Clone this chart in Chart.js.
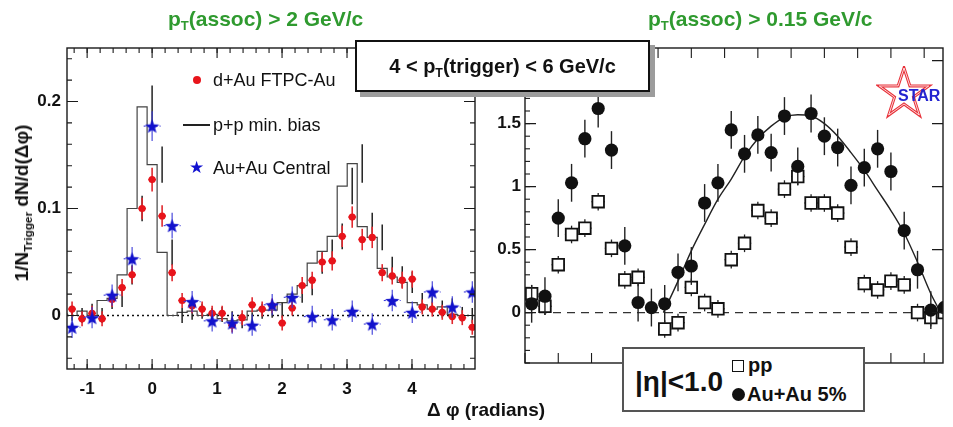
<!DOCTYPE html>
<html>
<head>
<meta charset="utf-8">
<script src="https://cdn.jsdelivr.net/npm/chart.js@4.4.1/dist/chart.umd.min.js"></script>
<style>
  body { margin: 0; width: 953px; height: 427px; position: relative; overflow: hidden; background: #fff;
         font-family: "Liberation Sans", Arial, sans-serif; color: #111; }
  canvas { position: absolute; top: 0; }
  #leftChart { left: 0; }
  #rightChart { left: 480px; }
  .lbl { position: absolute; white-space: nowrap; line-height: 20px; }
  .title { color: #2f9a2f; font-weight: bold; font-size: 21px; top: 8px; line-height: 22px; }
  sub { font-size: 0.62em; vertical-align: -0.3em; line-height: 0; }
  .leg { font-size: 18px; }
  #trigBox { position: absolute; left: 355px; top: 40px; width: 295px; height: 52px; box-sizing: border-box;
             border: 2px solid #111; background: #fff; box-shadow: 5px 5px 0 #9c9c9c;
             font-weight: bold; font-size: 20px; line-height: 48px; text-align: center; }
  #etaBox { position: absolute; left: 622px; top: 347px; width: 243px; height: 65px; box-sizing: border-box;
            border: 2px solid #555; background: #fff; font-weight: bold; }
  #yTitle { position: absolute; left: 22px; top: 203px; transform: translate(-50%, -50%) rotate(-90deg);
            font-weight: bold; font-size: 19px; white-space: nowrap; }
  #xTitle { position: absolute; left: 486px; top: 410px; transform: translate(-50%, -50%);
            font-weight: bold; font-size: 19px; white-space: nowrap; }
</style>
</head>
<body>
<canvas id="leftChart" width="480" height="427"></canvas>
<canvas id="rightChart" width="473" height="427"></canvas>

<div class="lbl title" style="left:168px">p<sub>T</sub>(assoc) &gt; 2 GeV/c</div>
<div class="lbl title" style="left:648px">p<sub>T</sub>(assoc) &gt; 0.15 GeV/c</div>

<div style="position:absolute;left:193px;top:76px;width:8px;height:8px;border-radius:50%;background:#e8141b"></div>
<div class="lbl leg" style="left:213px;top:70px">d+Au FTPC-Au</div>
<div style="position:absolute;left:183px;top:124px;width:27px;height:2px;background:#222"></div>
<div class="lbl leg" style="left:213px;top:115px">p+p min. bias</div>
<div class="lbl" style="left:189px;top:158px;font-size:17px;color:#1010d0">★</div>
<div class="lbl leg" style="left:213px;top:158px">Au+Au Central</div>

<div id="trigBox">4 &lt; p<sub>T</sub>(trigger) &lt; 6 GeV/c</div>

<svg style="position:absolute;left:876px;top:66px" width="58" height="56">
  <polygon points="28,2 33.9,19.9 52.7,20 37.5,31.1 43.3,49 28,38 12.7,49 18.5,31.1 3.3,20 22.1,19.9"
           fill="none" stroke="#e8323a" stroke-width="3"/>
  <polygon points="28,2 33.9,19.9 52.7,20 37.5,31.1 43.3,49 28,38 12.7,49 18.5,31.1 3.3,20 22.1,19.9"
           fill="none" stroke="#fff" stroke-width="0.8"/>
</svg>
<div class="lbl" style="left:898px;top:86px;font-weight:bold;font-size:16px;color:#2424d0">STAR</div>

<div id="etaBox">
  <div class="lbl" style="left:11px;top:19px;font-size:28px;line-height:28px">|η|&lt;1.0</div>
  <div style="position:absolute;left:108px;top:11px;width:10px;height:10px;border:1.8px solid #111"></div>
  <div class="lbl" style="left:124px;top:6px;font-size:20px">pp</div>
  <div style="position:absolute;left:108px;top:39px;width:13px;height:13px;border-radius:50%;background:#111"></div>
  <div class="lbl" style="left:123px;top:35px;font-size:20px">Au+Au 5%</div>
</div>

<div id="yTitle">1/N<sub>Trigger</sub> dN/d(Δφ)</div>
<div id="xTitle">Δ φ (radians)</div>

<script>
// ---- left panel: p_T(assoc) > 2 GeV/c ----
// bin centres (radians), narrow binning
const binX = [-1.232, -1.078, -0.924, -0.770, -0.616, -0.462, -0.308, -0.154,
  0.000, 0.154, 0.308, 0.462, 0.616, 0.770, 0.924, 1.078, 1.232, 1.386,
  1.540, 1.694, 1.848, 2.002, 2.156, 2.310, 2.464, 2.618, 2.772, 2.926,
  3.080, 3.234, 3.388, 3.542, 3.696, 3.850, 4.004, 4.158, 4.312, 4.466,
  4.620, 4.774, 4.928];
const binWidth = 0.154;
const leftXTicks = [-1, 0, 1, 2, 3, 4];
const leftYTicks = [0, 0.1, 0.2];

// d+Au FTPC-Au (red dots)
const dAuY = [0.006, -0.003, 0.002, -0.003, 0.015, 0.026, 0.038, 0.100,
  0.127, 0.093, 0.040, 0.014, 0.009, 0.006, 0.002, 0.002, -0.009, -0.002,
  0.010, 0.006, 0.009, -0.007, 0.007, 0.028, 0.033, 0.050, 0.051, 0.074,
  0.092, 0.071, 0.073, 0.040, 0.037, 0.033, 0.034, 0.008, 0.006, 0.003,
  -0.001, -0.002, -0.011];
const dAuErr = [0.007, 0.007, 0.007, 0.007, 0.007, 0.008, 0.008, 0.010,
  0.011, 0.010, 0.008, 0.007, 0.007, 0.007, 0.007, 0.007, 0.007, 0.007,
  0.007, 0.007, 0.007, 0.007, 0.007, 0.008, 0.008, 0.009, 0.009, 0.010,
  0.010, 0.010, 0.010, 0.008, 0.008, 0.008, 0.008, 0.007, 0.007, 0.007,
  0.007, 0.007, 0.007];

// p+p min. bias (histogram)
const ppMinBias = [0.002, 0.000, 0.004, 0.000, 0.014, 0.016, 0.038, 0.100,
  0.195, 0.141, 0.059, 0.000, 0.003, 0.004, 0.000, 0.001, -0.003, -0.005,
  -0.004, 0.004, 0.005, 0.005, 0.012, 0.020, 0.028, 0.049, 0.060, 0.074,
  0.121, 0.142, 0.083, 0.073, 0.044, 0.036, 0.031, 0.012, 0.010, 0.006,
  0.008, 0.001, 0.000];
const ppMinBiasErr = [0.007, 0.007, 0.007, 0.007, 0.008, 0.008, 0.009, 0.012,
  0.020, 0.017, 0.012, 0.007, 0.007, 0.007, 0.007, 0.007, 0.007, 0.007,
  0.007, 0.007, 0.007, 0.007, 0.008, 0.008, 0.009, 0.010, 0.011, 0.012,
  0.017, 0.018, 0.013, 0.012, 0.011, 0.010, 0.010, 0.009, 0.008, 0.008,
  0.008, 0.007, 0.007];

// Au+Au Central (blue stars), wide binning
const auauCentralX = [-1.232, -0.924, -0.616, -0.308, 0.000, 0.308, 0.616,
  0.924, 1.232, 1.540, 1.848, 2.156, 2.464, 2.772, 3.080, 3.388, 3.696,
  4.004, 4.312, 4.620, 4.928];
const auauCentralY = [-0.011, -0.002, 0.019, 0.053, 0.177, 0.084, 0.013,
  -0.005, -0.007, -0.009, 0.010, 0.017, -0.001, -0.004, 0.004, -0.008,
  0.014, 0.003, 0.022, 0.008, 0.022];
const auauCentralErr = [0.010, 0.010, 0.010, 0.011, 0.014, 0.012, 0.010,
  0.010, 0.010, 0.010, 0.010, 0.010, 0.010, 0.010, 0.010, 0.010, 0.010,
  0.010, 0.010, 0.010, 0.010];

// ---- right panel: p_T(assoc) > 0.15 GeV/c ----
const rightX = [0.1, 0.3, 0.5, 0.7, 0.9, 1.1, 1.3, 1.5, 1.7, 1.9, 2.1, 2.3,
  2.5, 2.7, 2.9, 3.1, 3.3, 3.5, 3.7, 3.9, 4.1, 4.3, 4.5, 4.7, 4.9, 5.1, 5.3,
  5.5, 5.7, 5.9, 6.1, 6.3];
const rightYTicks = [0, 0.5, 1, 1.5];
const auau5Y = [0.07, 0.13, 0.75, 1.03, 1.38, 1.62, 1.29, 0.53, 0.08, 0.04,
  0.07, 0.32, 0.37, 0.87, 1.03, 1.45, 1.26, 1.41, 1.27, 1.56, 1.16, 1.58,
  1.40, 1.31, 1.01, 1.15, 1.30, 1.12, 0.65, 0.34, 0.02, 0.04];
const ppY = [0.15, 0.05, 0.38, 0.62, 0.67, 0.88, 0.51, 0.26, 0.28, null,
  -0.13, -0.08, 0.20, 0.08, 0.03, 0.42, 0.55, 0.81, 0.75, 0.98, 1.08, 0.87,
  0.87, 0.79, 0.52, 0.23, 0.18, 0.25, 0.22, 0.00, -0.04, 0.00];
// away-side fit curve
const fitX = [2.08, 2.3, 2.5, 2.7, 2.9, 3.1, 3.3, 3.5, 3.7, 3.9, 4.1, 4.3, 4.5,
  4.7, 4.9, 5.1, 5.3, 5.5, 5.7, 5.9, 6.1, 6.25];
const fitY = [0.00, 0.25, 0.49, 0.70, 0.90, 1.06, 1.24, 1.38, 1.48, 1.55, 1.57,
  1.56, 1.50, 1.40, 1.27, 1.13, 0.97, 0.81, 0.63, 0.40, 0.15, 0.00];

const FONT = '"Liberation Sans", Arial, sans-serif';
const pts = (xs, ys) => xs.map((x, i) => ({ x: x, y: ys[i] }));
const fixedTicks = (values) => (scale) => { scale.ticks = values.map((v) => ({ value: v })); };

const starImage = (size, color) => {
  const c = document.createElement("canvas");
  c.width = c.height = size;
  const g = c.getContext("2d");
  g.fillStyle = color;
  g.beginPath();
  for (let i = 0; i < 10; i++) {
    const r = i % 2 ? size * 0.21 : size / 2;
    const a = -Math.PI / 2 + i * Math.PI / 5;
    g.lineTo(size / 2 + r * Math.cos(a), size / 2 + r * Math.sin(a) + size * 0.05);
  }
  g.closePath();
  g.fill();
  return c;
};

// vertical / horizontal error bars, drawn beneath each marker set
const errorBars = {
  id: "errorBars",
  beforeDatasetDraw(chart, args) {
    const ds = chart.data.datasets[args.index];
    if (!ds.errY) return;
    const { ctx, chartArea: a, scales: { x, y } } = chart;
    ctx.save();
    ctx.beginPath();
    ctx.rect(a.left, a.top, a.width, a.height);
    ctx.clip();
    ctx.strokeStyle = ds.errColor;
    ctx.lineWidth = ds.errWidth || 1.2;
    ds.data.forEach((p, i) => {
      if (p.y == null) return;
      const px = x.getPixelForValue(p.x);
      const py = y.getPixelForValue(p.y);
      ctx.setLineDash([]);
      ctx.beginPath();
      ctx.moveTo(px, y.getPixelForValue(p.y - ds.errY[i]));
      ctx.lineTo(px, y.getPixelForValue(p.y + ds.errY[i]));
      ctx.stroke();
      if (ds.errX) {
        ctx.setLineDash(ds.errDash || []);
        ctx.beginPath();
        ctx.moveTo(x.getPixelForValue(p.x - ds.errX), py);
        ctx.lineTo(x.getPixelForValue(p.x + ds.errX), py);
        ctx.stroke();
      }
    });
    ctx.restore();
  },
};

// ROOT-style frame with inward ticks on all sides
const frameTicks = {
  id: "frameTicks",
  afterDraw(chart, args, o) {
    const { ctx, chartArea: a, scales: { x, y } } = chart;
    ctx.save();
    ctx.strokeStyle = "#1a1a1a";
    ctx.lineWidth = 1.4;
    ctx.strokeRect(a.left, a.top, a.width, a.height);
    ctx.lineWidth = 1.1;
    const run = (scale, step, len, both, isX) => {
      const first = Math.ceil((scale.min - 1e-9) / step) * step;
      for (let v = first; v <= scale.max + 1e-9; v += step) {
        const p = scale.getPixelForValue(v);
        ctx.beginPath();
        if (isX) {
          ctx.moveTo(p, a.bottom); ctx.lineTo(p, a.bottom - len);
          if (both) { ctx.moveTo(p, a.top); ctx.lineTo(p, a.top + len); }
        } else {
          ctx.moveTo(a.left, p); ctx.lineTo(a.left + len, p);
          if (both) { ctx.moveTo(a.right, p); ctx.lineTo(a.right - len, p); }
        }
        ctx.stroke();
      }
    };
    if (o.xMinor) run(x, o.xMinor, 5, true, true);
    run(x, o.xMajor, 10, true, true);
    if (o.yMinor) run(y, o.yMinor, 5, o.yMinorBoth, false);
    run(y, o.yMajor, 11, true, false);
    ctx.restore();
  },
};

const tickFont = { family: FONT, size: 17, weight: "bold" };

// ---------------- left chart ----------------
const histData = binX.map((c, i) => ({ x: c - binWidth / 2, y: ppMinBias[i] }));
histData.push({ x: binX[binX.length - 1] + binWidth / 2, y: ppMinBias[ppMinBias.length - 1] });

new Chart(document.getElementById("leftChart"), {
  type: "scatter",
  data: {
    datasets: [
      {
        label: "Au+Au Central",
        data: pts(auauCentralX, auauCentralY),
        pointStyle: starImage(15, "#1212cc"),
        errY: auauCentralErr, errX: 0.13, errDash: [2, 2], errColor: "#3a3ad8", errWidth: 1.1,
      },
      {
        label: "d+Au FTPC-Au",
        data: pts(binX, dAuY),
        pointRadius: 3.6, backgroundColor: "#e8141b", borderWidth: 0,
        errY: dAuErr, errX: 0.06, errColor: "#e0282e", errWidth: 1.6,
      },
      {
        label: "p+p errors",
        data: pts(binX, ppMinBias),
        pointRadius: 0,
        errY: ppMinBiasErr, errColor: "#222", errWidth: 1.5,
      },
      {
        label: "p+p min. bias",
        type: "line",
        data: histData,
        stepped: "after", borderColor: "#444", borderWidth: 1.2, pointRadius: 0, fill: false,
      },
      {
        label: "zero",
        type: "line",
        data: [{ x: -1.31, y: 0 }, { x: 4.97, y: 0 }],
        borderColor: "#111", borderWidth: 1.6, borderDash: [2, 3], pointRadius: 0,
      },
    ],
  },
  options: {
    responsive: false,
    animation: false,
    layout: { padding: { left: 0, right: 4, top: 48, bottom: 28 } },
    scales: {
      x: {
        type: "linear", min: -1.31, max: 4.97,
        afterFit: (s) => { s.height = 30; },
        afterBuildTicks: fixedTicks(leftXTicks),
        grid: { display: false, drawTicks: false },
        border: { display: false },
        ticks: { padding: 10, font: tickFont, color: "#111" },
      },
      y: {
        min: -0.05, max: 0.25,
        afterFit: (s) => { s.width = 67; },
        afterBuildTicks: fixedTicks(leftYTicks),
        grid: { display: false, drawTicks: false },
        border: { display: false },
        ticks: {
          padding: 6, font: tickFont, color: "#111",
          callback: (v) => String(Math.round(v * 10) / 10),
        },
      },
    },
    plugins: {
      legend: { display: false },
      tooltip: { enabled: false },
      frameTicks: { xMajor: 1, xMinor: 0.2, yMajor: 0.1, yMinor: 0.02, yMinorBoth: true },
    },
  },
  plugins: [errorBars, frameTicks],
});

// ---------------- right chart ----------------
new Chart(document.getElementById("rightChart"), {
  type: "scatter",
  data: {
    datasets: [
      {
        label: "Au+Au 5%",
        data: pts(rightX, auau5Y),
        pointRadius: 6.6, backgroundColor: "#111", borderWidth: 0,
        errY: auau5Y.map(() => 0.15), errColor: "#222", errWidth: 1.4,
      },
      {
        label: "pp",
        data: pts(rightX, ppY),
        pointStyle: "rect", pointRadius: 8.2, backgroundColor: "#fff", borderColor: "#111", borderWidth: 1.8,
        errY: ppY.map(() => 0.07), errX: 0.1, errColor: "#222", errWidth: 1.3,
      },
      {
        label: "fit",
        type: "line",
        data: pts(fitX, fitY),
        borderColor: "#222", borderWidth: 1.4, pointRadius: 0, tension: 0.4, cubicInterpolationMode: "monotone",
      },
      {
        label: "zero",
        type: "line",
        data: [{ x: 0, y: 0 }, { x: 6.283, y: 0 }],
        borderColor: "#333", borderWidth: 1.4, borderDash: [8, 6], pointRadius: 0,
      },
    ],
  },
  options: {
    responsive: false,
    animation: false,
    layout: { padding: { left: 0, right: 2, top: 48, bottom: 64 } },
    scales: {
      x: {
        type: "linear", min: 0, max: 6.283,
        afterFit: (s) => { s.height = 0; },
        grid: { display: false, drawTicks: false },
        border: { display: false },
        ticks: { display: false },
      },
      y: {
        min: -0.4, max: 2.1,
        afterFit: (s) => { s.width = 45; },
        afterBuildTicks: fixedTicks(rightYTicks),
        grid: { display: false, drawTicks: false },
        border: { display: false },
        ticks: {
          padding: 4, font: tickFont, color: "#111",
          callback: (v) => String(Math.round(v * 10) / 10),
        },
      },
    },
    plugins: {
      legend: { display: false },
      tooltip: { enabled: false },
      frameTicks: { xMajor: 0.5, yMajor: 0.5, yMinor: 0.1, yMinorBoth: false },
    },
  },
  plugins: [errorBars, frameTicks],
});
</script>
</body>
</html>
